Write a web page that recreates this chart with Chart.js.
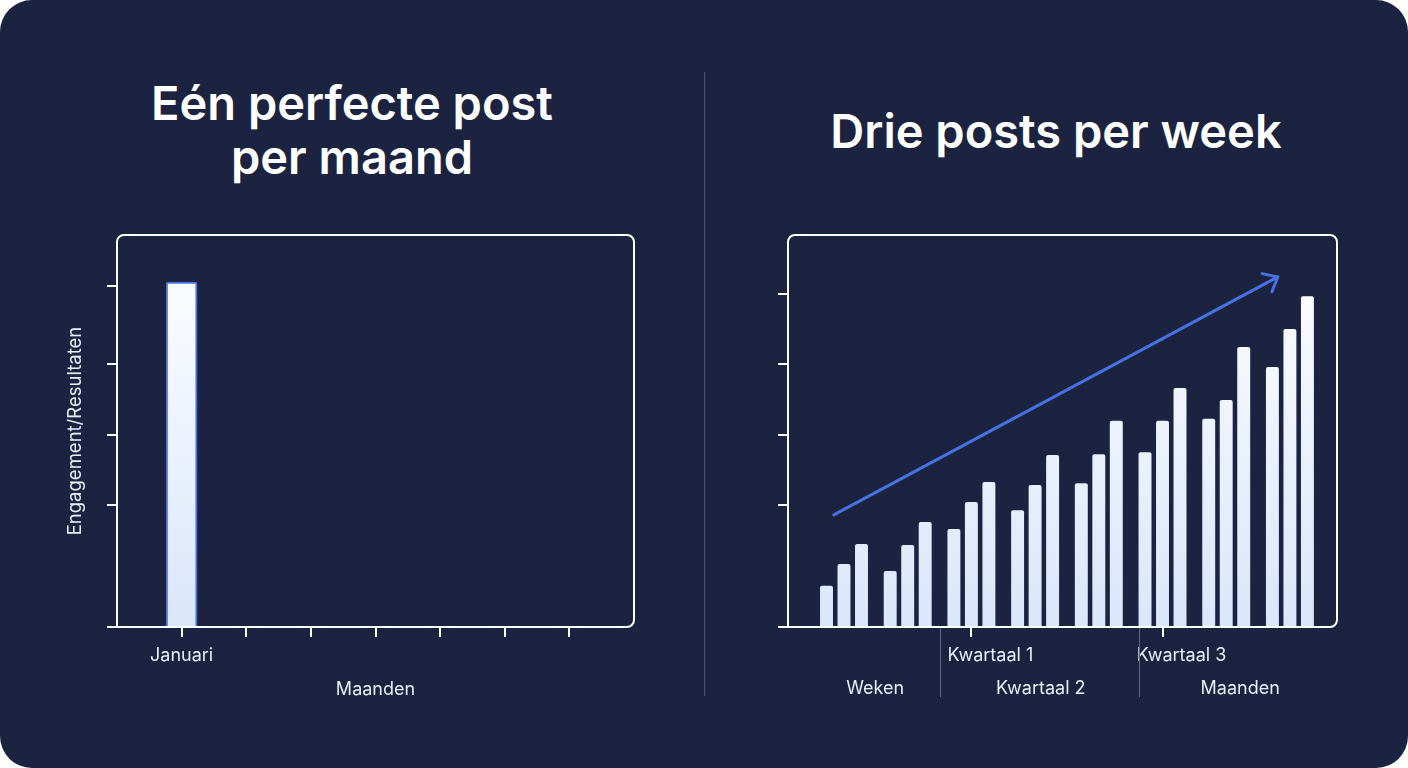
<!DOCTYPE html>
<html>
<head>
<meta charset="utf-8">
<script src="https://cdn.jsdelivr.net/npm/chart.js@4"></script>
<style>
  body { margin: 0; background: #ffffff; }
  #panel { position: absolute; left: 0; top: 0; width: 1408px; height: 768px; border-radius: 32px; background: #1b2340; overflow: hidden; font-family: Inter, sans-serif; }
  .title { position: absolute; width: 704px; text-align: center; color: #ffffff; font-weight: 600; font-size: 47px; line-height: 54px; }
  #divider { position: absolute; left: 704px; top: 72px; width: 1px; height: 624px; background: #4a5370; }
  .wrap { position: absolute; top: 200px; width: 704px; height: 520px; }
</style>
</head>
<body>
<div id="panel">
  <div class="title" style="left:0; top:76px;">Eén perfecte post<br>per maand</div>
  <div class="title" style="left:704px; top:104px;">Drie posts per week</div>
  <div id="divider"></div>
  <div class="wrap" style="left:0;"><canvas id="leftcnv"></canvas></div>
  <div class="wrap" style="left:704px;"><canvas id="rightcnv"></canvas></div>
</div>
<script>
// left chart: one post per month
var monthLabels = ['', 'Januari', '', '', '', '', '', ''];
var monthValues = [88];
var leftTicks = [0, 31, 49, 67, 87];

// right chart: three posts per week, eight groups
var postA = [10.5, 14.3, 25.0, 29.8, 36.7, 44.6, 53.1, 66.3];
var postB = [16.1, 20.9, 31.9, 36.2, 44.1, 52.6, 57.9, 76.0];
var postC = [21.2, 26.8, 37.0, 43.9, 52.6, 61.0, 71.4, 84.4];
var rightTicks = [0, 31, 49, 67, 85];
var quarterTicks = {2: 'Kwartaal 1', 5: 'Kwartaal 3'};
var trendStart = {x: -0.16, y: 28.6};
var trendEnd = {x: 6.81, y: 89.3};
var bottomLabels = ['Weken', 'Kwartaal 2', 'Maanden'];

const WHITE = '#ffffff';
const TEXT = '#e9edf6';
const BLUE = '#4872e0';
const FONT = 'Inter, sans-serif';
const SMALL = 18;

function barGradient(ctx){
  const chart = ctx.chart;
  const area = chart.chartArea;
  if(!area) return WHITE;
  const g = chart.ctx.createLinearGradient(0, area.top, 0, area.bottom);
  g.addColorStop(0, '#ffffff');
  g.addColorStop(1, '#dae6fb');
  return g;
}

// rounded frame around the plot area
const framePlugin = {
  id: 'frame',
  beforeDatasetsDraw(chart){
    const a = chart.chartArea;
    const c = chart.ctx;
    c.save();
    c.strokeStyle = WHITE;
    c.lineWidth = 2;
    c.beginPath();
    c.roundRect(a.left, a.top, a.right - a.left, a.bottom - a.top, [7, 7, 7, 0]);
    c.stroke();
    c.restore();
  }
};

function axisOpts(ticks, width){
  return {
    min: 0, max: 100,
    afterBuildTicks: s => { s.ticks = ticks.map(v => ({value: v})); },
    afterFit: s => { s.width = width; },
    grid: { drawOnChartArea: false, color: WHITE, lineWidth: 2, tickLength: 10 },
    border: { display: false },
    ticks: { display: false }
  };
}

new Chart(document.getElementById('leftcnv').getContext('2d'), {
  type: 'bar',
  data: {
    datasets: [{
      data: monthValues.map((v, i) => ({x: i + 1, y: v})),
      backgroundColor: barGradient,
      borderColor: BLUE,
      borderWidth: 2,
      borderRadius: 2,
      borderSkipped: 'bottom',
      barThickness: 31
    }]
  },
  options: {
    responsive: true,
    maintainAspectRatio: false,
    animation: false,
    layout: { padding: { left: 64, top: 35, right: 70, bottom: 0 } },
    plugins: { legend: { display: false }, tooltip: { enabled: false } },
    scales: {
      x: {
        type: 'linear', min: 0, max: 8, offset: false,
        afterBuildTicks: s => { s.ticks = [1, 2, 3, 4, 5, 6, 7].map(v => ({value: v})); },
        afterFit: s => { s.height = 93; },
        grid: { offset: false, drawOnChartArea: false, color: WHITE, lineWidth: 2, tickLength: 10 },
        border: { display: false },
        ticks: { color: TEXT, font: { family: FONT, size: SMALL }, padding: 8, maxRotation: 0,
                 callback: v => monthLabels[v] || '' },
        title: { display: true, text: 'Maanden', color: TEXT, font: { family: FONT, size: SMALL }, padding: { top: 0, bottom: 20 } }
      },
      y: Object.assign(axisOpts(leftTicks, 53), {
        title: { display: true, text: 'Engagement/Resultaten', color: TEXT, font: { family: FONT, size: 18.5 }, padding: 0 }
      })
    }
  },
  plugins: [framePlugin]
});

// arrow head at the end of the trend line, separators and lower labels
const annotatePlugin = {
  id: 'annotate',
  afterDatasetsDraw(chart){
    const c = chart.ctx;
    const xs = chart.scales.x, ys = chart.scales.y;
    const x0 = xs.getPixelForValue(trendStart.x), y0 = ys.getPixelForValue(trendStart.y);
    const x1 = xs.getPixelForValue(trendEnd.x), y1 = ys.getPixelForValue(trendEnd.y);
    const ang = Math.atan2(y1 - y0, x1 - x0);
    c.save();
    c.strokeStyle = BLUE;
    c.lineWidth = 3;
    c.lineCap = 'round';
    c.lineJoin = 'round';
    c.beginPath();
    c.moveTo(x1 - 16 * Math.cos(ang - 0.7), y1 - 16 * Math.sin(ang - 0.7));
    c.lineTo(x1, y1);
    c.lineTo(x1 - 16 * Math.cos(ang + 0.7), y1 - 16 * Math.sin(ang + 0.7));
    c.stroke();
    c.restore();
  },
  afterDraw(chart){
    const c = chart.ctx;
    const xs = chart.scales.x;
    const bottom = chart.chartArea.bottom;
    c.save();
    c.strokeStyle = '#5d6684';
    c.lineWidth = 1;
    [1.5, 4.63].forEach(v => {
      const px = Math.round(xs.getPixelForValue(v)) + 0.5;
      c.beginPath();
      c.moveTo(px, bottom + 1);
      c.lineTo(px, bottom + 70);
      c.stroke();
    });
    c.fillStyle = TEXT;
    c.font = SMALL + 'px ' + FONT;
    c.textAlign = 'center';
    c.textBaseline = 'middle';
    [0.49, 3.09, 6.22].forEach((v, i) => {
      c.fillText(bottomLabels[i], xs.getPixelForValue(v), bottom + 62);
    });
    c.restore();
  }
};

function weekBars(values){
  return {
    type: 'bar',
    data: values.map((v, i) => ({x: i, y: v})),
    backgroundColor: barGradient,
    borderRadius: 2,
    borderSkipped: 'bottom',
    categoryPercentage: 0.824,
    barPercentage: 0.74
  };
}

new Chart(document.getElementById('rightcnv').getContext('2d'), {
  type: 'bar',
  data: {
    datasets: [
      weekBars(postA),
      weekBars(postB),
      weekBars(postC),
      {
        type: 'line',
        data: [trendStart, trendEnd],
        borderColor: BLUE,
        borderWidth: 3,
        pointRadius: 0,
        borderCapStyle: 'round'
      }
    ]
  },
  options: {
    responsive: true,
    maintainAspectRatio: false,
    animation: false,
    layout: { padding: { left: 64, top: 35, right: 71, bottom: 0 } },
    plugins: { legend: { display: false }, tooltip: { enabled: false } },
    scales: {
      x: {
        type: 'linear', min: -0.879, max: 7.739, offset: false,
        afterBuildTicks: s => { s.ticks = [2, 5].map(v => ({value: v})); },
        afterFit: s => { s.height = 93; },
        grid: { offset: false, drawOnChartArea: false, color: WHITE, lineWidth: 2, tickLength: 10 },
        border: { display: false },
        ticks: { color: TEXT, font: { family: FONT, size: SMALL }, padding: 8, maxRotation: 0, labelOffset: 19,
                 callback: v => quarterTicks[v] || '' }
      },
      y: axisOpts(rightTicks, 20)
    }
  },
  plugins: [framePlugin, annotatePlugin]
});
</script>
</body>
</html>
